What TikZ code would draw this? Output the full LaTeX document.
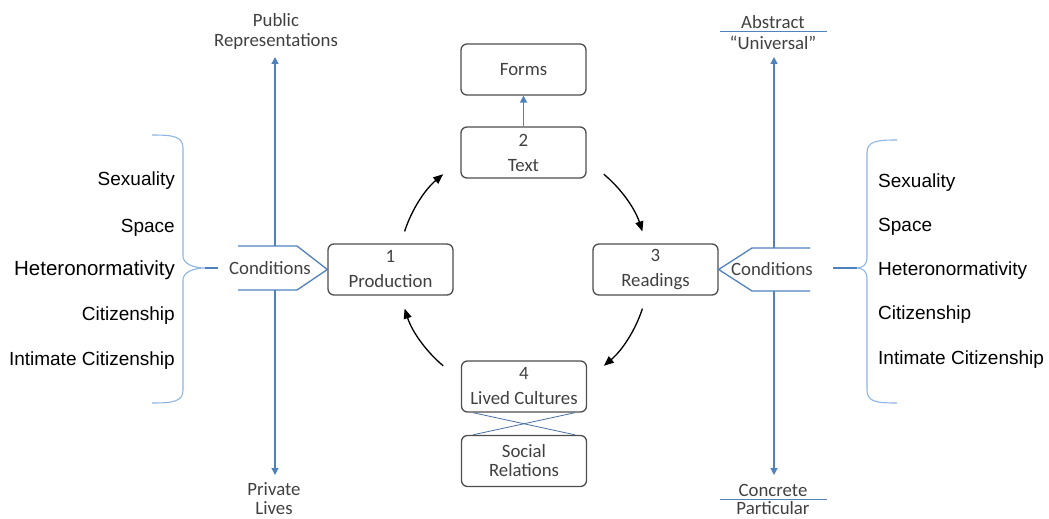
\documentclass[tikz,border=0pt]{standalone}
\usepackage{fontspec}
\setmainfont{Carlito}
\newfontfamily\arialf{Liberation Sans}
\usetikzlibrary{arrows.meta}
\definecolor{boxgray}{HTML}{4D4D4D}
\definecolor{txtgray}{HTML}{404040}
\definecolor{lineblue}{HTML}{4F81BD}
\definecolor{braceblue}{HTML}{8EB4E3}
\definecolor{crossblue}{HTML}{4A6FA5}
\begin{document}
\begin{tikzpicture}[x=1pt,y=-1pt,
 box/.style={draw=boxgray, line width=1.3pt, rounded corners=6pt, minimum width=125pt, minimum height=51pt, text=txtgray, align=center, font=\fontsize{18.8}{22}\selectfont, inner sep=0pt},
 lbl/.style={text=txtgray, align=center, font=\fontsize{18.8}{20}\selectfont, inner sep=0pt},
 item/.style={font=\arialf\fontsize{19}{22}\selectfont, inner sep=0pt, text=black},
 bl/.style={draw=lineblue, line width=1.3pt},
 blarrow/.style={bl, -{Triangle[length=7pt,width=7pt]}},
 cyc/.style={draw=black, line width=1.3pt, -{Triangle[length=10pt,width=8pt]}},
 brace/.style={draw=braceblue, line width=1.1pt},
 crossline/.style={draw=crossblue, line width=0.8pt},
]
\useasboundingbox (0,0) rectangle (1049,519);

% boxes
\node[box] (forms) at (523.5,69.5) {Forms};
\node[box] (text) at (523.5,152.5) {2\\[3pt]Text};
\node[box] (prod) at (390.5,269.5) {1\\[3pt]Production};
\node[box] (read) at (655.5,269.5) {3\\[3pt]Readings};
\node[box] (lived) at (524,386.5) {4\\[3pt]Lived Cultures};
\node[box, font=\fontsize{18.8}{19}\selectfont] (social) at (524,461) {Social\\Relations};

\draw[blarrow, line width=1.6pt] (text.north) -- (forms.south);

% cross between Lived Cultures and Social Relations
\draw[crossline] ([xshift=12pt]lived.south west) -- ([xshift=-12pt]social.north east);
\draw[crossline] ([xshift=-12pt]lived.south east) -- ([xshift=12pt]social.north west);

% cycle arrows
\coordinate (a1s) at (404.6,231.4); \coordinate (a1e) at (443.2,174.2);
\coordinate (a2s) at (603.8,174.2); \coordinate (a2e) at (642.4,231.4);
\coordinate (a3s) at (642.4,308.6); \coordinate (a3e) at (603.8,365.8);
\coordinate (a4s) at (443.2,365.8); \coordinate (a4e) at (404.6,308.6);
\draw[cyc] (a1s) .. controls (411.8,209.1) and (425.3,189.2) .. (a1e);
\draw[cyc] (a2s) .. controls (621.7,189.2) and (635.2,209.1) .. (a2e);
\draw[cyc] (a3s) .. controls (635.2,330.9) and (621.7,350.8) .. (a3e);
\draw[cyc] (a4s) .. controls (425.3,350.8) and (411.8,330.9) .. (a4e);

% left conditions
\node[lbl] (condL) at (270,268) {Conditions};
\draw[bl] (238,246) -- (297,246) -- (prod.west) -- (297,290) -- (238,290);
\coordinate (lvt) at (275,246); \coordinate (lvb) at (275,290);
\coordinate (lvtop) at (275,57); \coordinate (lvbot) at (275,475);
\draw[blarrow] (lvt) -- (lvtop);
\draw[blarrow] (lvb) -- (lvbot);
\node[lbl] (pub) at (276,31.5) {Public\\Representations};
\node[lbl, font=\fontsize{18.8}{19}\selectfont] (priv) at (274,498.5) {Private\\Lives};

% right conditions
\node[lbl] (condR) at (772,269) {Conditions};
\draw[bl] (810,248) -- (752,248) -- (read.east) -- (752,291) -- (810,291);
\coordinate (rvt) at (774,248); \coordinate (rvb) at (774,291);
\coordinate (rvtop) at (774,57); \coordinate (rvbot) at (774,475);
\draw[blarrow] (rvt) -- (rvtop);
\draw[blarrow] (rvb) -- (rvbot);
\node[lbl] (abs) at (773,22) {Abstract};
\node[lbl] (univ) at (773,43) {“Universal”};
\draw[bl, line width=1pt] (720,32) -- (827,32);
\node[lbl] (conc) at (773,490) {Concrete};
\node[lbl] (part) at (773,508.5) {Particular};
\draw[bl, line width=1pt] (720,499.5) -- (827,499.5);

% left brace
\draw[brace] (152,135) .. controls (172,135) and (183,136) .. (183,148) -- (183,256)
  .. controls (183,264) and (194,268) .. (205,268)
  .. controls (194,268) and (183,272) .. (183,280) -- (183,390)
  .. controls (183,402) and (172,403) .. (152,403);
\coordinate (lbt) at (205,268); \coordinate (lbe) at (218,268);
\draw[bl] (lbt) -- (lbe);

% right brace
\draw[brace] (897,140) .. controls (877,140) and (867,141) .. (867,153) -- (867,258)
  .. controls (867,265) and (862,268) .. (857,268)
  .. controls (862,268) and (867,271) .. (867,278) -- (867,390)
  .. controls (867,402) and (877,403) .. (897,403);
\coordinate (rbt) at (857,268); \coordinate (rbe) at (833,268);
\draw[bl] (rbe) -- (rbt);

% lists
\node[item, anchor=base east] (l1) at (175,185) {Sexuality};
\node[item, anchor=base east] (l2) at (175,232) {Space};
\node[item, anchor=base east, font=\arialf\fontsize{20.5}{22}\selectfont] (l3) at (175,275.5) {Heteronormativity};
\node[item, anchor=base east] (l4) at (175,320) {Citizenship};
\node[item, anchor=base east] (l5) at (175,365) {Intimate Citizenship};
\node[item, anchor=base west] (r1) at (878,187) {Sexuality};
\node[item, anchor=base west] (r2) at (878,231) {Space};
\node[item, anchor=base west] (r3) at (878,275) {Heteronormativity};
\node[item, anchor=base west] (r4) at (878,319) {Citizenship};
\node[item, anchor=base west] (r5) at (878,364) {Intimate Citizenship};
\end{tikzpicture}
\end{document}
